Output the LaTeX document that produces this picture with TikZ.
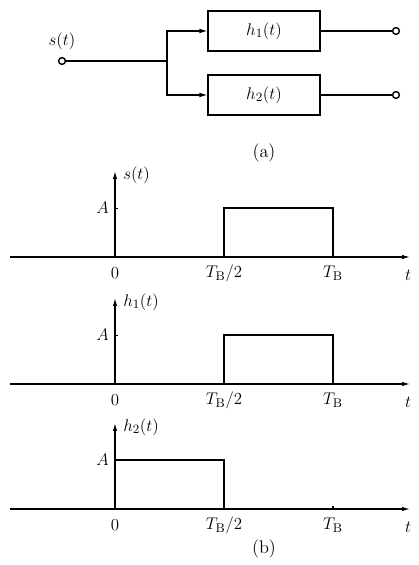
\documentclass[tikz,border=0pt]{standalone}
\usetikzlibrary{arrows.meta,positioning}
\tikzset{
  blk/.style={draw,line width=1pt,minimum width=2.8cm,minimum height=1cm},
  term/.style={circle,draw,line width=1pt,inner sep=0pt,minimum size=0.17cm},
  sig/.style={-{Latex[length=2mm,width=1.2mm]}},
  ax/.style={-{Latex[length=2mm,width=1.1mm]}},
  every node/.style={font=\fontsize{13}{15}\selectfont},
}
\begin{document}
\begin{tikzpicture}[line width=0.8pt]
  \useasboundingbox (0,0) rectangle (10.45,14.125);
  % (a) block diagram
  \node[term] (in) at (1.55,12.6) {};
  \node[above=0.05cm of in] (sin) {$s(t)$};
  \coordinate (j) at (4.175,12.6);
  \node[blk] (h1) at (6.6,13.35) {$h_1(t)$};
  \node[blk] (h2) at (6.6,11.75) {$h_2(t)$};
  \node[term] (o1) at (9.9,13.35) {};
  \node[term] (o2) at (9.9,11.75) {};
  \draw (in) -- (j);
  \draw[sig] (j) |- (h1);
  \draw[sig] (j) |- (h2);
  \draw (h1) -- (o1);
  \draw (h2) -- (o2);
  \node (capa) at (6.6,10.3) {(a)};
  % (b) waveforms
  \foreach \i/\y/\lab/\a/\b in {1/7.7/s(t)/5.6/8.325,
                                2/4.525/h_1(t)/5.6/8.325,
                                3/1.4/h_2(t)/2.875/5.6}{
    \draw[ax] (0.25,\y) -- (10.25,\y);
    \draw[ax] (2.875,\y) -- (2.875,\y+2.15);
    \node[anchor=west] (lab\i) at (2.95,\y+2.05) {$\lab$};
    \draw (2.875,\y+1.22) -- (2.95,\y+1.22);
    \node[anchor=east] (amp\i) at (2.85,\y+1.22) {$A$};
    \draw (8.325,\y) -- (8.325,\y+0.08);
    \draw[line width=1pt] (\a,\y) |- (\b,\y+1.22) -- (\b,\y);
    \node (zero\i) at (2.875,\y-0.4) {$0$};
    \node (half\i) at (5.6,\y-0.4) {$T_{\mathrm{B}}/2$};
    \node (full\i) at (8.325,\y-0.4) {$T_{\mathrm{B}}$};
    \node (t\i) at (10.2,\y-0.45) {$t$};
  }
  \node (capb) at (6.6,0.4) {(b)};
\end{tikzpicture}
\end{document}
